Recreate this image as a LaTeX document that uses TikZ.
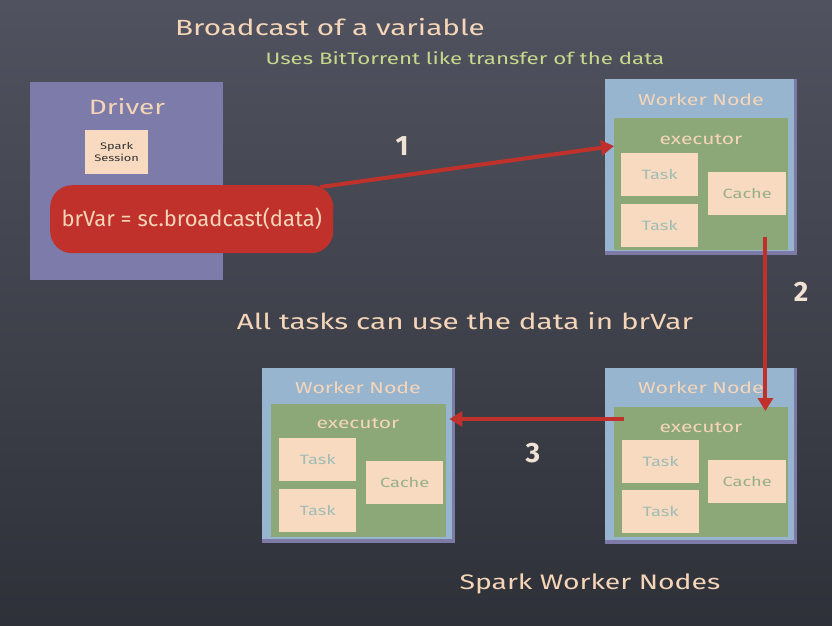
\documentclass[tikz,border=0pt]{standalone}
\usepackage{fontspec}
\setmainfont{Fira Sans}
\newfontfamily\handfont[FakeStretch=1.35]{Fira Sans}
\usetikzlibrary{arrows.meta,calc}
\definecolor{bgtop}{HTML}{50535F}
\definecolor{bgbot}{HTML}{2F3139}
\definecolor{drvpurple}{HTML}{7C7BA9}
\definecolor{peach}{HTML}{F8DAC1}
\definecolor{peachtxt}{HTML}{F5D5B8}
\definecolor{redbox}{HTML}{C0312B}
\definecolor{subgreen}{HTML}{C8D88C}
\definecolor{wblue}{HTML}{98B5D0}
\definecolor{wshadow}{HTML}{7D7AA8}
\definecolor{wgreen}{HTML}{8CA878}
\definecolor{tasktxt}{HTML}{9FBCB5}
\definecolor{cachetxt}{HTML}{97B08A}
\definecolor{numtxt}{HTML}{F0E2D4}
\tikzset{
  title/.style={text=peachtxt, font=\handfont\fontsize{22}{26}\selectfont, inner sep=0pt},
  subtitle/.style={text=subgreen, font=\handfont\fontsize{16.5}{19}\selectfont, inner sep=0pt},
  driverbox/.style={fill=drvpurple, draw=none, anchor=north west, minimum width=193pt, minimum height=198pt, inner sep=0pt},
  sessionbox/.style={fill=peach, draw=none, anchor=north west, minimum width=63pt, minimum height=44pt, inner sep=0pt, align=center, text=black!80, font=\handfont\fontsize{9.5}{12}\selectfont},
  codebox/.style={fill=redbox, draw=none, rounded corners=22pt, anchor=north west, minimum width=283pt, minimum height=68pt, inner sep=0pt, text=peachtxt, font=\fontsize{22}{26}\selectfont},
  wshad/.style={fill=wshadow, draw=none, anchor=north west, minimum width=192pt, minimum height=176pt, inner sep=0pt},
  wouter/.style={fill=wblue, draw=none, anchor=north west, minimum width=189pt, minimum height=172pt, inner sep=0pt},
  winner/.style={fill=wgreen, draw=none, anchor=north west, minimum width=174pt, minimum height=132pt, inner sep=0pt},
  wlabel/.style={text=peachtxt, font=\handfont\fontsize{15.8}{18}\selectfont, inner sep=0pt},
  exlabel/.style={text=peachtxt, font=\handfont\fontsize{15.6}{18}\selectfont, inner sep=0pt},
  taskbox/.style={fill=peach, draw=none, anchor=north west, minimum width=77pt, minimum height=43pt, inner sep=0pt, text=tasktxt, font=\handfont\fontsize{13.5}{15}\selectfont},
  cachebox/.style={fill=peach, draw=none, anchor=north west, minimum width=78pt, minimum height=43pt, inner sep=0pt, text=cachetxt, font=\handfont\fontsize{13.5}{15}\selectfont},
  redarrow/.style={draw=redbox, line width=4pt, -{Triangle[length=13pt,width=15pt]}},
  numlabel/.style={text=numtxt, font=\fontsize{28}{32}\selectfont\bfseries, inner sep=0pt},
}
\begin{document}
\begin{tikzpicture}[x=1pt,y=-1pt]
\shade[top color=bgtop, bottom color=bgbot] (0,0) rectangle (832,625);
\useasboundingbox (0,0) rectangle (832,625);

% titles
\node[title] (ttl) at (330,27) {Broadcast of a variable};
\node[subtitle] (sub) at (465,58) {Uses BitTorrent like transfer of the data};

% driver
\node[driverbox] (drv) at (30,82) {};
\node[title, font=\handfont\fontsize{20.7}{24}\selectfont] (drvt) at (127,107) {Driver};
\node[sessionbox] (sess) at (85,130) {Spark\\Session};
\node[codebox] (code) at (50,185) {brVar = sc.broadcast(data)};

% worker 1 (top right)
\node[wshad] (w1s) at (605,79) {};
\node[wouter] (w1) at (605,79) {};
\node[winner] (w1e) at (614,118) {};
\node[wlabel] (w1t) at (701,100) {Worker Node};
\node[exlabel] (w1x) at (701,139) {executor};
\node[taskbox] (w1a) at (621,153) {Task};
\node[taskbox] (w1b) at (621,204) {Task};
\node[cachebox] (w1c) at (708,172) {Cache};

% worker 2 (bottom right)
\node[wshad] (w2s) at (605,368) {};
\node[wouter] (w2) at (605,368) {};
\node[winner, minimum height=130pt] (w2e) at (614,407) {};
\node[wlabel] (w2t) at (701,388) {Worker Node};
\node[exlabel] (w2x) at (701,427) {executor};
\node[taskbox] (w2a) at (622,440) {Task};
\node[taskbox] (w2b) at (622,490) {Task};
\node[cachebox] (w2c) at (708,460) {Cache};

% worker 3 (bottom left)
\node[wshad, minimum height=175pt, minimum width=193pt] (w3s) at (262,368) {};
\node[wouter, minimum width=190pt, minimum height=171pt] (w3) at (262,368) {};
\node[winner, minimum width=175pt, minimum height=133pt] (w3e) at (271,404) {};
\node[wlabel] (w3t) at (358,388) {Worker Node};
\node[exlabel] (w3x) at (358,423) {executor};
\node[taskbox] (w3a) at (279,438) {Task};
\node[taskbox] (w3b) at (279,489) {Task};
\node[cachebox, minimum width=77pt] (w3c) at (366,461) {Cache};

% texts
\node[title] (all) at (465,321) {All tasks can use the data in brVar};
\node[title, font=\handfont\fontsize{21}{25}\selectfont] (swn) at (590,584) {Spark Worker Nodes};

% arrows
\coordinate (a1s) at ([xshift=-13pt,yshift=-2pt]code.north east);
\coordinate (a1e) at ([yshift=-28pt]w1e.north west);
\draw[redarrow] (a1s) -- (a1e);
\node[numlabel] (n1) at (402,146) {1};

\coordinate (a2s) at ([xshift=-23pt,yshift=13pt]w1e.south east);
\coordinate (a2e) at ([xshift=-23pt,yshift=-4pt]w2e.north east);
\draw[redarrow] (a2s) -- (a2e);
\node[numlabel] (n2) at (801,292) {2};

\coordinate (a3s) at ([xshift=10pt,yshift=-12pt]w2e.north west);
\coordinate (a3e) at ([xshift=-3pt]w3.east |- a3s);
\draw[redarrow] (a3s) -- (a3e);
\node[numlabel] (n3) at (533,453) {3};
\end{tikzpicture}
\end{document}
